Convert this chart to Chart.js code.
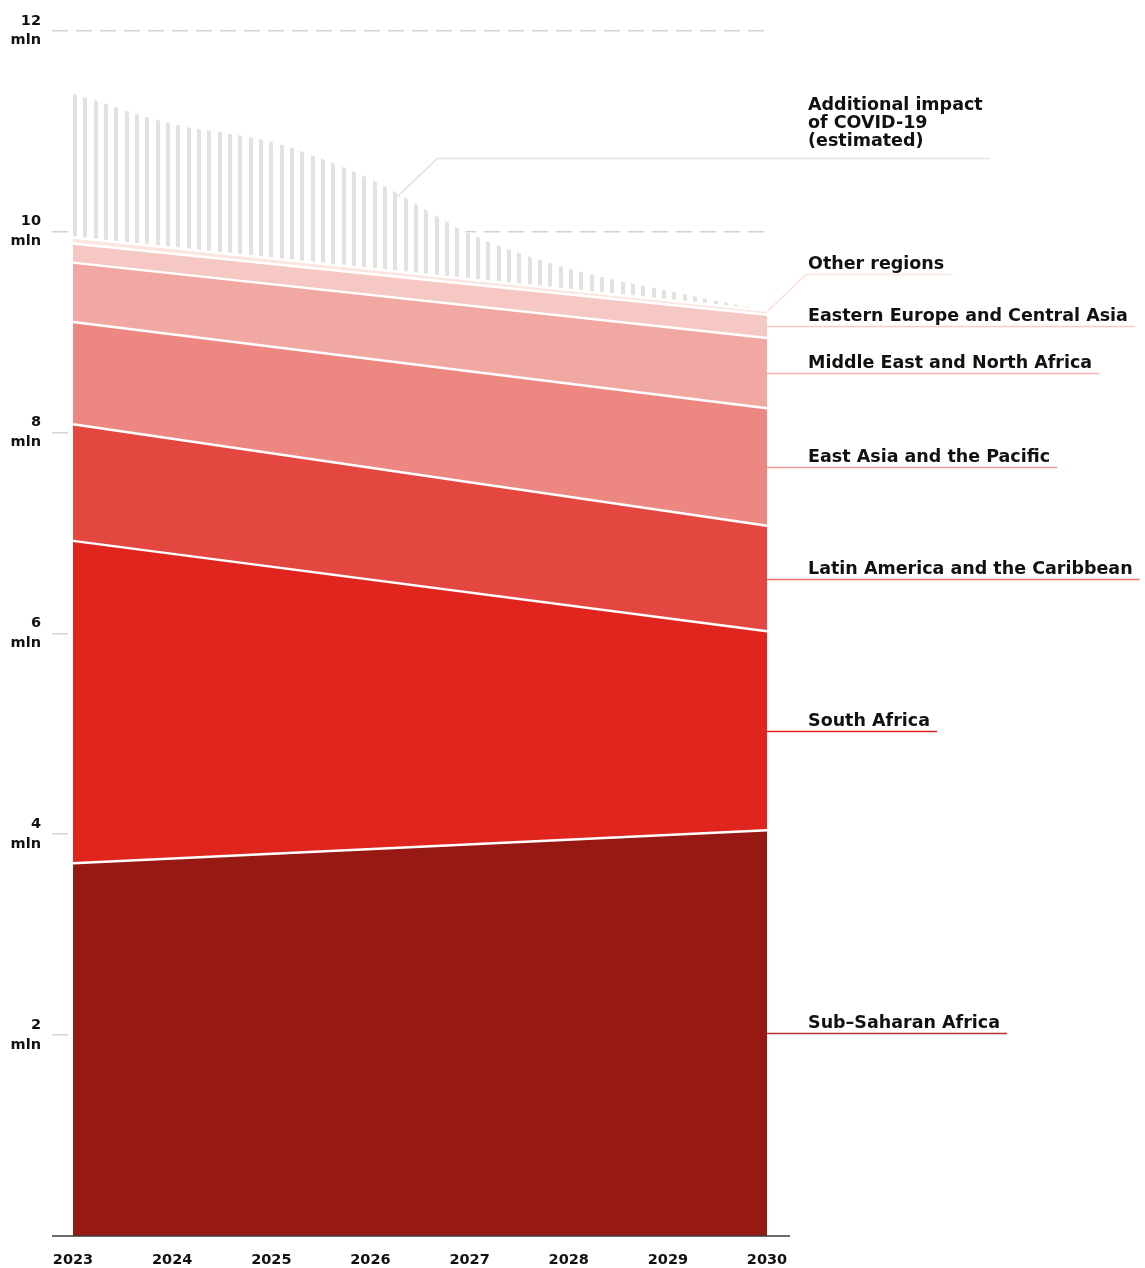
<!DOCTYPE html>
<html>
<head>
<meta charset="utf-8">
<script src="https://cdn.jsdelivr.net/npm/chart.js@4.4.1/dist/chart.umd.min.js"></script>
<style>
  html, body { margin: 0; padding: 0; background: #fff; }
  #wrap { width: 1145px; height: 1268px; }
</style>
</head>
<body>
<div id="wrap"><canvas id="chart" width="1145" height="1268"></canvas></div>
<script>
// --- data, mln people ---
const yearTicks = [2023, 2024, 2025, 2026, 2027, 2028, 2029, 2030];
const yTicks = [2, 4, 6, 8, 10, 12];

// regional projections run straight from 2023 to 2030
const regionYears = [2023, 2030];
const subSaharanAfrica = [3.71, 4.04];
const southAfrica = [3.21, 1.98];
const latinAmerica = [1.16, 1.05];
const eastAsiaPacific = [1.02, 1.17];
const middleEastNorthAfrica = [0.59, 0.70];
const easternEuropeCentralAsia = [0.19, 0.23];
const otherRegions = [0.06, 0.04];

// projected total including the estimated extra COVID-19 impact
const covidYears = [2023, 2024, 2025, 2026, 2027, 2028, 2029, 2030];
const totalWithCovid = [11.37, 11.07, 10.89, 10.52, 9.98, 9.63, 9.41, 9.21];

const regionNames = [
    'Sub–Saharan Africa',
    'South Africa',
    'Latin America and the Caribbean',
    'East Asia and the Pacific',
    'Middle East and North Africa',
    'Eastern Europe and Central Asia',
    'Other regions'
];
const regionValues = [subSaharanAfrica, southAfrica, latinAmerica, eastAsiaPacific,
    middleEastNorthAfrica, easternEuropeCentralAsia, otherRegions];
const regionColors = ['#961913', '#e0241e', '#e44640', '#ec8781', '#f2a8a2', '#f6c8c3', '#fae5df'];
const leaderColors = ['#b5312c', '#e0241e', '#ec6f69', '#f09a95', '#f4b4af', '#f7cdc9', '#fbe3dc'];
const covidLabel = ['Additional impact', 'of COVID-19', '(estimated)'];

const FONT = '"DejaVu Sans", sans-serif';
const TEXT = '#111';

// white background with grey vertical stripes
function stripePattern(ctx) {
    const tile = document.createElement('canvas');
    tile.width = 31;
    tile.height = 8;
    const t = tile.getContext('2d');
    t.fillStyle = '#fff';
    t.fillRect(0, 0, 31, 8);
    t.fillStyle = '#e5e1de';
    [1, 11, 21].forEach(x => t.fillRect(x, 0, 4, 8));
    return ctx.createPattern(tile, 'repeat');
}

// baseline + labels with leader lines on the right
const sideLabels = {
    id: 'sideLabels',
    afterDraw(chart) {
        const { ctx, chartArea } = chart;
        const xs = chart.scales.x;
        const ys = chart.scales.y;
        const endX = xs.getPixelForValue(2030);
        const textX = endX + 41;

        ctx.save();
        ctx.strokeStyle = '#3a3a3a';
        ctx.lineWidth = 1.5;
        ctx.beginPath();
        ctx.moveTo(chartArea.left, chartArea.bottom);
        ctx.lineTo(endX + 23, chartArea.bottom);
        ctx.stroke();

        ctx.font = 'bold 17.5px ' + FONT;
        ctx.textBaseline = 'alphabetic';
        ctx.textAlign = 'left';

        regionNames.forEach((name, i) => {
            const pts = chart.getDatasetMeta(i).data;
            const top = pts[pts.length - 1];
            const w = ctx.measureText(name).width;
            ctx.strokeStyle = leaderColors[i];
            ctx.beginPath();
            let lineY;
            if (i === regionNames.length - 1) {
                lineY = Math.round(top.y - 37) + 0.5;
                ctx.moveTo(top.x + 1, top.y);
                ctx.lineTo(top.x + 39, lineY);
            } else {
                const prev = i === 0 ? ys.getPixelForValue(0) : chart.getDatasetMeta(i - 1).data[pts.length - 1].y;
                lineY = Math.round((top.y + prev) / 2) + 0.5;
                ctx.moveTo(top.x, lineY);
            }
            ctx.lineTo(textX + w + 7, lineY);
            ctx.stroke();
            ctx.fillStyle = TEXT;
            ctx.fillText(name, textX, lineY - 6);
        });

        // COVID-19 label, anchored on the top of the hatched area
        const cp = chart.getDatasetMeta(regionNames.length).data;
        const ax = xs.getPixelForValue(2026.27);
        const f = (ax - cp[3].x) / (cp[4].x - cp[3].x);
        const ay = cp[3].y + (cp[4].y - cp[3].y) * f + 3;
        const elbowY = Math.round(ay - 39) + 0.5;
        const w = Math.max(...covidLabel.map(s => ctx.measureText(s).width));
        ctx.strokeStyle = '#e2e2e2';
        ctx.beginPath();
        ctx.moveTo(ax, ay);
        ctx.lineTo(ax + 40, elbowY);
        ctx.lineTo(textX + w + 7, elbowY);
        ctx.stroke();
        ctx.fillStyle = TEXT;
        covidLabel.forEach((s, k) => {
            ctx.fillText(s, textX, elbowY - 12.5 - (covidLabel.length - 1 - k) * 18);
        });
        ctx.restore();
    }
};

const ctx = document.getElementById('chart').getContext('2d');

const datasets = regionNames.map((name, i) => ({
    label: name,
    data: regionYears.map((x, k) => ({ x: x, y: regionValues[i][k] })),
    stack: 'regions',
    fill: i === 0 ? 'origin' : '-1',
    backgroundColor: regionColors[i],
    borderColor: '#fff',
    borderWidth: 2.5,
    pointRadius: 0,
    tension: 0
}));

datasets.push({
    label: 'Additional impact of COVID-19 (estimated)',
    data: covidYears.map((x, k) => ({ x: x, y: totalWithCovid[k] })),
    stack: 'covid',
    fill: '-1',
    backgroundColor: stripePattern(ctx),
    borderWidth: 0,
    pointRadius: 0,
    cubicInterpolationMode: 'monotone'
});

new Chart(ctx, {
    type: 'line',
    data: { datasets: datasets },
    options: {
        responsive: false,
        animation: false,
        events: [],
        layout: { padding: { left: 10.5, right: 374, top: 28, bottom: 0 } },
        plugins: {
            legend: { display: false },
            tooltip: { enabled: false }
        },
        scales: {
            x: {
                type: 'linear',
                min: 2022.788,
                max: 2030.04,
                afterBuildTicks: s => { s.ticks = yearTicks.map(v => ({ value: v })); },
                afterFit: s => { s.height = 32; },
                grid: { display: false, drawTicks: false },
                border: { display: false },
                ticks: {
                    padding: 16,
                    maxRotation: 0,
                    color: TEXT,
                    font: { family: FONT, size: 14.5, weight: 'bold' },
                    callback: v => String(v)
                }
            },
            y: {
                stacked: true,
                min: 0,
                max: 12,
                afterBuildTicks: s => { s.ticks = yTicks.map(v => ({ value: v })); },
                afterFit: s => { s.width = 41.5; },
                grid: { color: '#d4d4d4', lineWidth: 1.5, drawTicks: false },
                border: { display: false, dash: [16, 8] },
                ticks: {
                    padding: 11,
                    color: TEXT,
                    font: { family: FONT, size: 14.5, weight: 'bold', lineHeight: 1.35 },
                    callback: v => [String(v), 'mln']
                }
            }
        }
    },
    plugins: [sideLabels]
});
</script>
</body>
</html>
